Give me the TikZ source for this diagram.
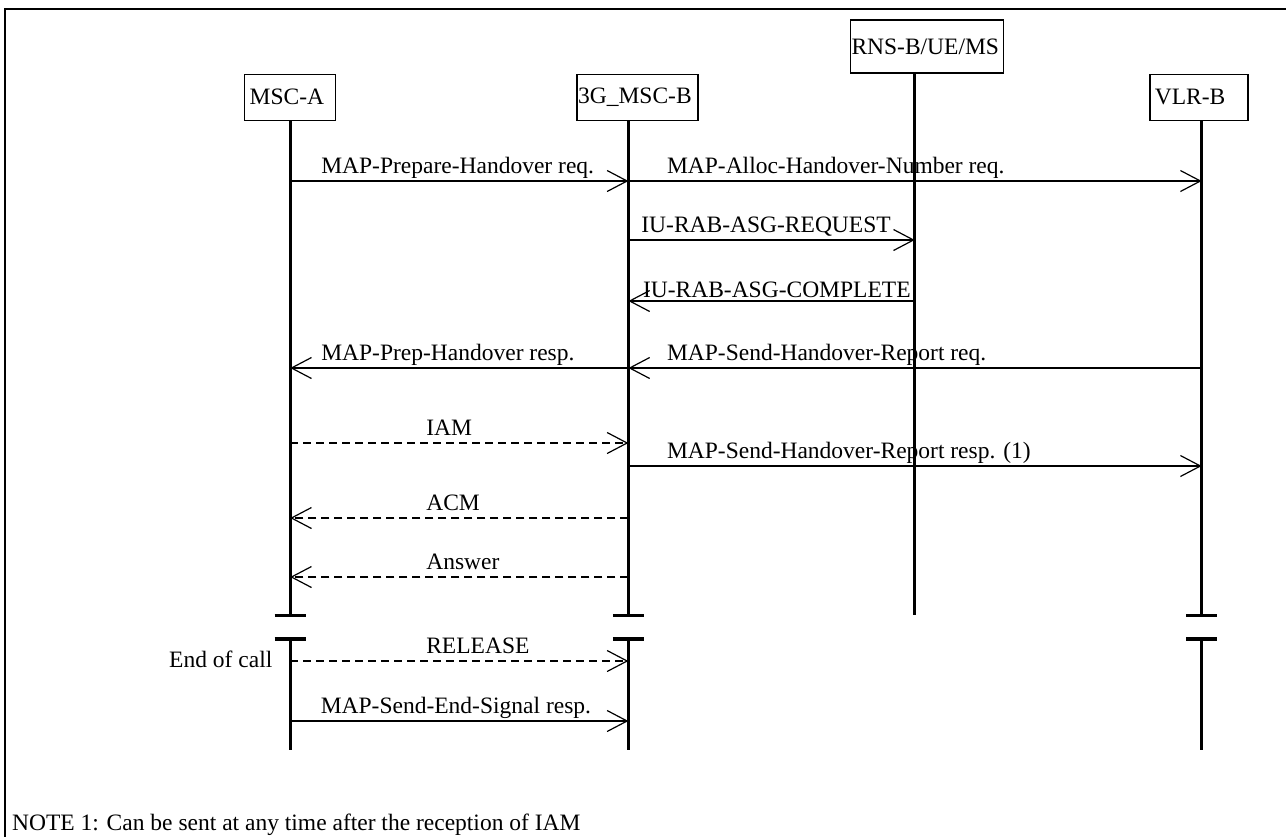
\documentclass[tikz,border=0pt]{standalone}
\usepackage{fontspec}
\setmainfont{Liberation Serif}
\usetikzlibrary{arrows.meta,positioning}
\tikzset{
  entity/.style={rectangle,draw,line width=0.7pt,anchor=south west,inner xsep=0.5pt,inner ysep=0pt,
                 align=left,minimum height=23pt},
  life/.style={line width=1.5pt},
  msg/.style={-{Straight Barb[length=10pt,width=10.5pt]},line width=0.6pt},
  dmsg/.style={msg,dash pattern=on 4pt off 2.5pt},
  lbl/.style={anchor=base west,inner sep=0pt,yshift=4pt},
  brk/.style={line width=1.5pt},
}

\begin{document}
\begin{tikzpicture}[x=0.5pt,y=-0.5pt,font=\fontsize{11.75}{14}\selectfont]
  \useasboundingbox (0,0) rectangle (1286,837);
  \draw[line width=0.75pt] (1286,9) -- (5,9) -- (5,837);

  % entities
  \node[entity,text width=40.5pt,inner xsep=2.5pt] (msca) at (244,121) {MSC-A};
  \node[entity,text width=59.5pt,right=120pt of msca.south east,anchor=south west] (mscb) {3G\_MSC-B};
  \node[entity,text width=75.5pt,minimum height=26.5pt,right=75.5pt of mscb.north east,anchor=south west] (rns) {RNS-B/UE/MS};
  \node[entity,text width=44pt,inner xsep=2.5pt,right=72.5pt of rns.south east,anchor=north west] (vlr) {VLR-B};

  \coordinate (la) at (msca.south);
  \coordinate (lb) at ([xshift=26pt]mscb.south west);
  \coordinate (lc) at ([xshift=32.5pt]rns.south west);
  \coordinate (ld) at ([xshift=26.25pt]vlr.south west);

  % message rows
  \coordinate (r1) at (0,181);
  \coordinate (r2) at (0,240);
  \coordinate (r3) at (0,301);
  \coordinate (r4) at (0,368);
  \coordinate (r5) at (0,443);
  \coordinate (r6) at (0,466);
  \coordinate (r7) at (0,518);
  \coordinate (r8) at (0,577);
  \coordinate (cut1) at (0,615);
  \coordinate (cut2) at (0,639);
  \coordinate (r9) at (0,661);
  \coordinate (r10) at (0,721);
  \coordinate (bot) at (0,750);

  % lifelines
  \foreach \l in {la,lb,ld} {
    \draw[life] (\l) -- (\l |- cut1);
    \draw[life] (\l |- cut2) -- (\l |- bot);
    \draw[brk] (\l |- cut1) ++(-15.5,0) -- ++(31,0);
    \draw[line width=2pt] (\l |- cut2) ++(-15.5,0) -- ++(31,0);
  }
  \draw[life] (lc) -- (lc |- cut1);

  % messages
  \draw[msg]  (la |- r1) -- node[lbl,pos=0,xshift=15.25pt]{MAP-Prepare-Handover req.} (lb |- r1);
  \draw[msg]  (lb |- r1) -- node[lbl,pos=0,xshift=19pt]{MAP-Alloc-Handover-Number req.} (ld |- r1);
  \draw[msg]  (lb |- r2) -- node[lbl,pos=0,xshift=6.2pt]{IU-RAB-ASG-REQUEST} (lc |- r2);
  \draw[msg]  (lc |- r3) -- node[lbl,pos=1,xshift=7pt,yshift=-2pt]{IU-RAB-ASG-COMPLETE} (lb |- r3);
  \draw[msg]  (ld |- r4) -- node[lbl,pos=1,xshift=19pt]{MAP-Send-Handover-Report req.} (lb |- r4);
  \draw[msg]  (lb |- r4) -- node[lbl,pos=1,xshift=15.25pt]{MAP-Prep-Handover resp.} (la |- r4);
  \draw[dmsg] (la |- r5) -- node[lbl,pos=0,xshift=67.75pt]{IAM} (lb |- r5);
  \draw[msg]  (lb |- r6) -- node[lbl,pos=0,xshift=19pt]{MAP-Send-Handover-Report resp. (1)} (ld |- r6);
  \draw[dmsg] (lb |- r7) -- node[lbl,pos=1,xshift=67.75pt]{ACM} (la |- r7);
  \draw[dmsg] (lb |- r8) -- node[lbl,pos=1,xshift=67.75pt]{Answer} (la |- r8);
  \draw[dmsg] (la |- r9) -- node[lbl,pos=0,xshift=67.75pt]{RELEASE} (lb |- r9);
  \draw[msg]  (la |- r10) -- node[lbl,pos=0,xshift=15pt]{MAP-Send-End-Signal resp.} (lb |- r10);

  \node[anchor=base east,inner sep=0pt,xshift=-8.75pt,yshift=-3pt] (eoc) at (la |- r9) {End of call};
  \node[anchor=base west,inner sep=0pt] (note) at (11.7,830) {NOTE 1: Can be sent at any time after the reception of IAM};
\end{tikzpicture}
\end{document}
